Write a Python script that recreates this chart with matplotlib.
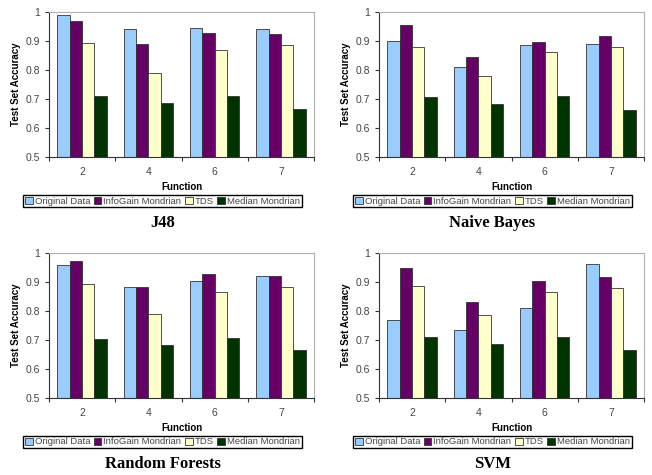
import numpy as np
import matplotlib.pyplot as plt

functions = ['2', '4', '6', '7']
series_names = ['Original Data', 'InfoGain Mondrian', 'TDS', 'Median Mondrian']
colors = ['#99ccff', '#660066', '#ffffcc', '#003300']

j48 = [
    [0.991, 0.941, 0.944, 0.941],
    [0.970, 0.889, 0.928, 0.923],
    [0.893, 0.791, 0.869, 0.885],
    [0.710, 0.687, 0.710, 0.666],
]
naive_bayes = [
    [0.901, 0.810, 0.886, 0.889],
    [0.954, 0.845, 0.898, 0.916],
    [0.879, 0.779, 0.862, 0.879],
    [0.708, 0.683, 0.710, 0.662],
]
random_forests = [
    [0.957, 0.882, 0.903, 0.922],
    [0.972, 0.884, 0.928, 0.922],
    [0.892, 0.789, 0.866, 0.882],
    [0.703, 0.682, 0.706, 0.664],
]
svm = [
    [0.770, 0.735, 0.810, 0.961],
    [0.948, 0.830, 0.905, 0.916],
    [0.886, 0.787, 0.866, 0.881],
    [0.711, 0.685, 0.711, 0.666],
]

W, H = 652, 475
fig = plt.figure(figsize=(W / 100, H / 100), dpi=100)
plt.rcParams['font.family'] = ['Liberation Sans', 'DejaVu Sans']

panels = [
    (j48, 'J48', 49, 157),
    (naive_bayes, 'Naive Bayes', 379, 157),
    (random_forests, 'Random Forests', 49, 398),
    (svm, 'SVM', 379, 398),
]

bw = 0.186
x = np.arange(len(functions))

for data, title, left, bottom in panels:
    ax = fig.add_axes([left / W, 1 - bottom / H, 265 / W, 145 / H])
    handles = []
    for i, (name, vals) in enumerate(zip(series_names, data)):
        b = ax.bar(x + (i - 1.5) * bw, vals, bw, color=colors[i],
                   edgecolor='#333333', linewidth=0.6, label=name)
        handles.append(b)
    ax.set_xlim(-0.5, len(functions) - 0.5)
    ax.set_ylim(0.5, 1.0)
    ax.set_yticks([0.5, 0.6, 0.7, 0.8, 0.9, 1.0])
    ax.set_yticklabels(['0.5', '0.6', '0.7', '0.8', '0.9', '1'])
    ax.set_xticks(x)
    ax.set_xticklabels(functions)
    ax.set_xticks(np.arange(-0.5, len(functions)), minor=True)
    ax.tick_params(axis='x', which='major', length=0, pad=7,
                   labelsize=7.5, labelcolor='#444444')
    ax.tick_params(axis='x', which='minor', length=3, width=0.8, color='#333333')
    ax.tick_params(axis='y', length=3, width=0.8, labelsize=7.5,
                   labelcolor='#444444', color='#333333')
    for s in ['top', 'right']:
        ax.spines[s].set_color('#b0b0b0')
        ax.spines[s].set_linewidth(0.8)
    for s in ['left', 'bottom']:
        ax.spines[s].set_color('#333333')
        ax.spines[s].set_linewidth(0.8)
    ax.set_xlabel('Function', fontsize=7, fontweight='bold', labelpad=4)
    ax.set_ylabel('Test Set Accuracy', fontsize=7, fontweight='bold', labelpad=3)

    cx = (left + 113.5) / W
    leg_y = bottom + 44
    fig.legend(handles=handles, loc='center', bbox_to_anchor=(cx, 1 - leg_y / H),
               ncol=4, fontsize=6.8, frameon=True, fancybox=False,
               edgecolor='black', handlelength=0.8, handleheight=0.8,
               handletextpad=0.2, columnspacing=0.4, borderpad=0.2,
               labelcolor='#444444', framealpha=1)
    title_y = bottom + 66
    fig.text(cx, 1 - title_y / H, title, ha='center', va='center',
             fontsize=12, fontweight='bold', family='Liberation Serif')

fig.savefig('out.png', dpi=100)
